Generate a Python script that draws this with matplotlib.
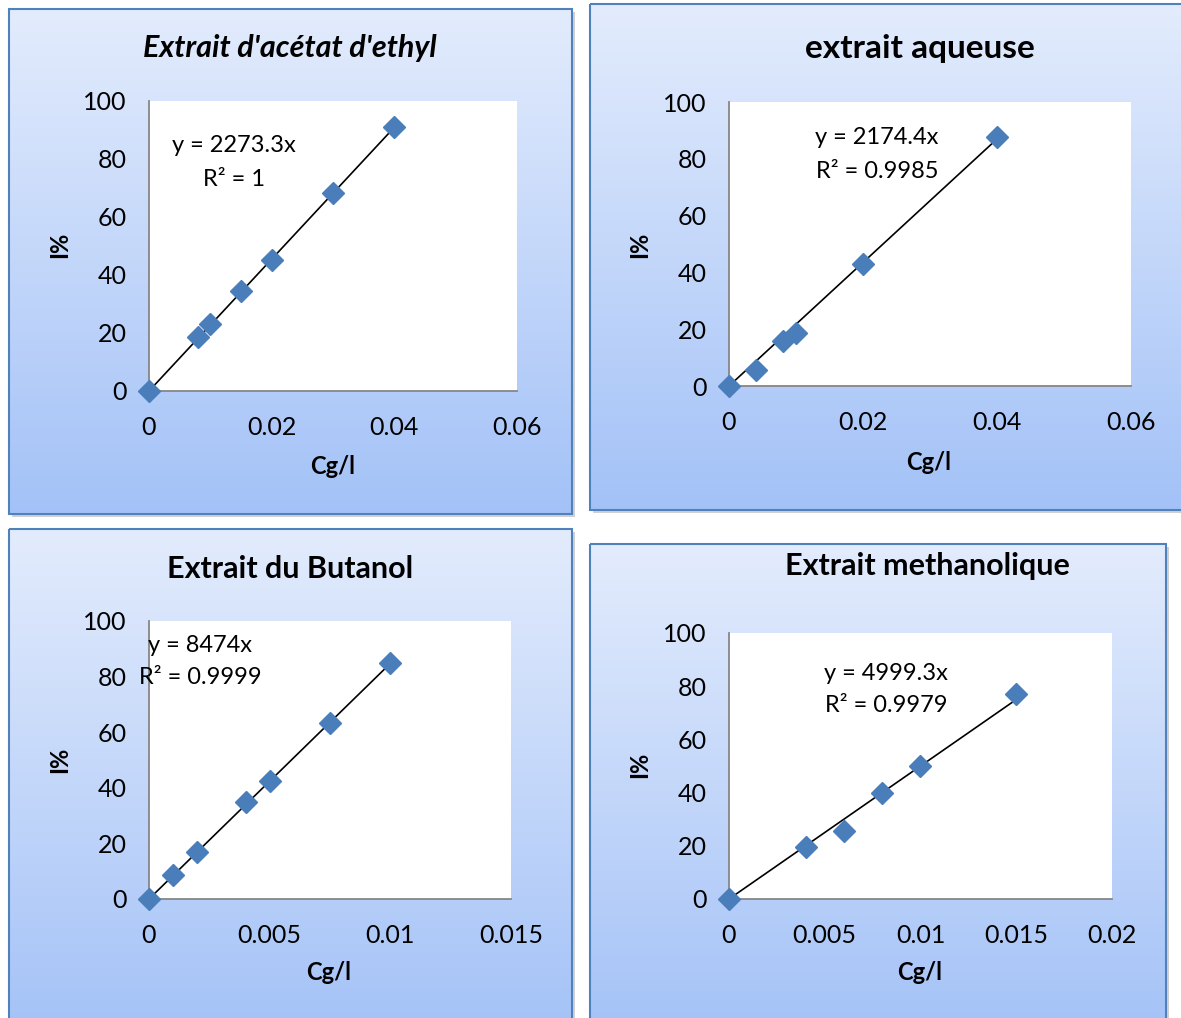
import numpy as np
import matplotlib.pyplot as plt
from matplotlib.patches import Rectangle

plt.rcParams['font.family'] = ['Lato', 'DejaVu Sans']

W, H = 1181, 1018

# data
titles = ["Extrait d'acétat d'ethyl", "extrait aqueuse", "Extrait du Butanol", "Extrait methanolique"]
acetate_x = [0, 0.008, 0.01, 0.015, 0.02, 0.03, 0.04]
acetate_y = [0, 18.6, 23.1, 34.5, 45.2, 68.3, 91]
aqueuse_x = [0, 0.004, 0.008, 0.01, 0.02, 0.04]
aqueuse_y = [0, 5.6, 15.8, 18.7, 43, 87.7]
butanol_x = [0, 0.001, 0.002, 0.004, 0.005, 0.0075, 0.01]
butanol_y = [0, 8.6, 16.9, 34.9, 42.4, 63.3, 84.9]
methanol_x = [0, 0.004, 0.006, 0.008, 0.01, 0.015]
methanol_y = [0, 19.5, 25.6, 39.8, 50, 77]
slopes = [2273.3, 2174.4, 8474, 4999.3]
r2_labels = ["1", "0.9985", "0.9999", "0.9979"]
xmax = [0.06, 0.06, 0.015, 0.02]
xstep = [0.02, 0.02, 0.005, 0.005]
yticks = [0, 20, 40, 60, 80, 100]

series = [(acetate_x, acetate_y), (aqueuse_x, aqueuse_y),
          (butanol_x, butanol_y), (methanol_x, methanol_y)]

# layout in pixels (x0, y0, x1, y1), y measured from top
boxes = [(9, 9, 572, 514), (590, 4, 1195, 510), (9, 529, 572, 1040), (590, 544, 1166, 1040)]
plots = [(149, 101, 517, 391), (729, 102, 1131, 386), (149, 621, 511, 899), (729, 633, 1112, 899)]
title_pos = [(290, 48), (920, 48), (290, 569), (927, 566)]
title_size = [22, 24, 22, 22]
eq_pos = [(234, 146), (877, 138), (200, 645), (886, 673)]
ylab_pos = [(60, 245), (640, 245), (60, 760), (640, 765)]
xlab_pos = [(333, 466), (929, 462), (329, 973), (920, 972)]


def fpos(x, y):
    return x / W, 1 - y / H


fig = plt.figure(figsize=(W / 100, H / 100), dpi=100)
bg = fig.add_axes([0, 0, 1, 1], zorder=0)
bg.set_xlim(0, W)
bg.set_ylim(H, 0)
bg.axis('off')

grad = np.linspace(0, 1, 256).reshape(-1, 1)
top_c = np.array([0.89, 0.925, 0.99])
bot_c = np.array([0.64, 0.76, 0.97])
grad_img = top_c + (bot_c - top_c) * grad[:, :, None] * np.ones((1, 2, 1))

for i in range(4):
    x0, y0, x1, y1 = boxes[i]
    bg.add_patch(Rectangle((x0 + 3, y0 + 3), x1 - x0, y1 - y0, facecolor='#d0d0d0',
                           edgecolor='none', zorder=0))
    bg.imshow(grad_img, extent=(x0, x1, y1, y0), aspect='auto', zorder=1)
    bg.add_patch(Rectangle((x0, y0), x1 - x0, y1 - y0, facecolor='none',
                           edgecolor='#4f81bd', linewidth=1.5, zorder=2))

    style = 'italic' if i == 0 else 'normal'
    bg.text(*title_pos[i], titles[i], fontsize=title_size[i], fontweight='bold', style=style,
            ha='center', va='center', zorder=3)
    bg.text(*ylab_pos[i], "I%", fontsize=17, fontweight='bold', rotation=90,
            ha='center', va='center', zorder=3)
    bg.text(*xlab_pos[i], "Cg/l", fontsize=17, fontweight='bold',
            ha='center', va='center', zorder=3)

    px0, py0, px1, py1 = plots[i]
    ax = fig.add_axes([px0 / W, (H - py1) / H, (px1 - px0) / W, (py1 - py0) / H], zorder=2)
    ax.set_facecolor('white')
    ax.set_xlim(0, xmax[i])
    ax.set_ylim(0, 100)
    for s in ['top', 'right']:
        ax.spines[s].set_visible(False)
    for s in ['left', 'bottom']:
        ax.spines[s].set_color('#868686')
        ax.spines[s].set_linewidth(1.3)
    xt = np.arange(0, xmax[i] + xstep[i] / 2, xstep[i])
    ax.set_xticks(xt)
    ax.set_xticklabels([f"{v:g}" for v in np.round(xt, 4)])
    ax.set_yticks(yticks)
    ax.tick_params(axis='y', length=0, labelsize=18, pad=16)
    ax.tick_params(axis='x', length=0, labelsize=18, pad=18)

    xs, ys = series[i]
    ax.plot([0, max(xs)], [0, slopes[i] * max(xs)], color='black', linewidth=1.2, zorder=3)
    ax.plot(xs, ys, linestyle='none', marker='D', markersize=11,
            color='#4a7ebb', zorder=4, clip_on=False)

    ex, ey = eq_pos[i]
    fig.text(*fpos(ex, ey), f"y = {slopes[i]:g}x", fontsize=17,
             ha='center', va='center', zorder=10)
    fig.text(*fpos(ex, ey + 33), f"R² = {r2_labels[i]}", fontsize=17,
             ha='center', va='center', zorder=10)

fig.savefig("out.png", dpi=100)
